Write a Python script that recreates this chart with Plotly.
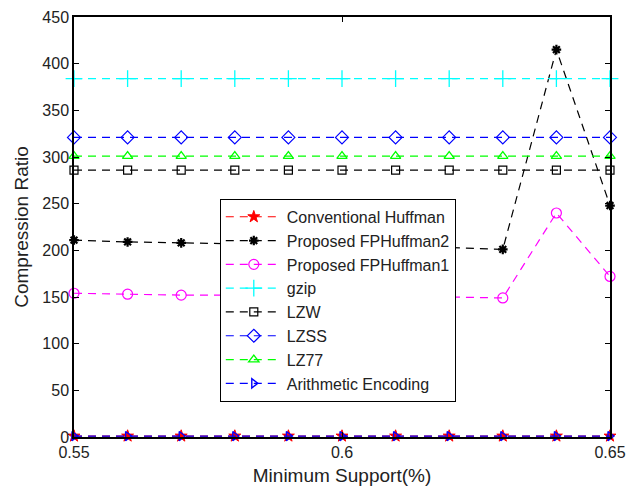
import plotly.graph_objects as go

min_support = [0.55, 0.56, 0.57, 0.58, 0.59, 0.60, 0.61, 0.62, 0.63, 0.64, 0.65]

conventional_huffman = [1.0] * 11
fp_huffman2 = [211, 209, 208, 207, 206, 205, 204, 203, 201, 415, 248]
fp_huffman1 = [154, 153, 152, 152, 151, 151, 150, 150, 149, 240, 172]
gzip = [384] * 11
lzw = [286] * 11
lzss = [321] * 11
lz77 = [301] * 11
arithmetic = [1.0] * 11

y_ticks = [0, 50, 100, 150, 200, 250, 300, 350, 400, 450]
x_ticks = [0.55, 0.6, 0.65]
x_tick_labels = ["0.55", "0.6", "0.65"]

series = [
    ("Conventional Huffman", conventional_huffman, "#FF0000", "star", 9, 1),
    ("Proposed FPHuffman2", fp_huffman2, "#000000", "asterisk-open", 8, 2.2),
    ("Proposed FPHuffman1", fp_huffman1, "#FF00FF", "circle-open", 10, 1.2),
    ("gzip", gzip, "#00FFFF", "cross-thin-open", 12, 1.3),
    ("LZW", lzw, "#000000", "square-open", 8, 1.2),
    ("LZSS", lzss, "#0000FF", "diamond-open", 10, 1.2),
    ("LZ77", lz77, "#00FF00", "triangle-up-open", 9, 1.3),
    ("Arithmetic Encoding", arithmetic, "#0000FF", "triangle-right-open", 8, 1.4),
]

fig = go.Figure()
for i, (name, vals, color, symbol, size, lw) in enumerate(series):
    fig.add_trace(go.Scatter(
        x=min_support, y=vals, name=name, mode="lines+markers",
        line=dict(color=color, width=1.2, dash="8px,6px"),
        marker=dict(symbol=symbol, size=size, color=color,
                    line=dict(color=color, width=lw)),
        legendgroup="g%d" % i, cliponaxis=False,
    ))

axis_common = dict(
    showline=True, linecolor="#000000", linewidth=1.5, mirror="ticks",
    ticks="inside", ticklen=5, tickcolor="#000000", tickwidth=1,
    showgrid=False, zeroline=False, automargin=False,
    ticklabeloverflow="allow",
    tickfont=dict(family="Liberation Sans, Arial, sans-serif", size=16, color="#222222"),
)

fig.update_layout(
    width=619, height=478,
    margin=dict(l=66, r=17, t=9, b=49),
    paper_bgcolor="white", plot_bgcolor="white",
    font=dict(family="Liberation Sans, Arial, sans-serif", size=16, color="#222222"),
    xaxis=dict(range=[0.55, 0.65], tickvals=x_ticks, ticktext=x_tick_labels,
               title=dict(text="Minimum Support(%)", standoff=9,
                          font=dict(size=19, color="#222222")),
               **axis_common),
    yaxis=dict(range=[0, 450], tickvals=y_ticks,
               title=dict(text="Compression Ratio", standoff=9,
                          font=dict(size=19, color="#222222")),
               **axis_common),
    legend=dict(x=0.272, y=0.567, xanchor="left", yanchor="top",
                bgcolor="white", bordercolor="#000000", borderwidth=1,
                font=dict(size=16, color="#222222"),
                traceorder="grouped", tracegroupgap=0, itemwidth=56),
    showlegend=True,
)

fig.write_html("out.html")
